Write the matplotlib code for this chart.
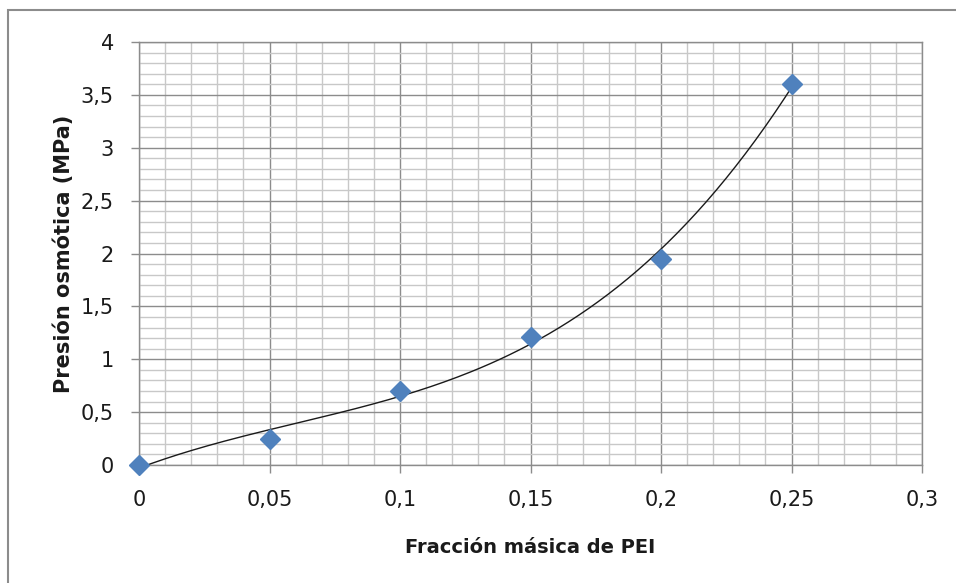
import numpy as np
import matplotlib.pyplot as plt
from matplotlib.patches import Rectangle
from matplotlib.ticker import MultipleLocator, FuncFormatter

fraccion = [0.0, 0.05, 0.10, 0.15, 0.20, 0.25]
presion = [0.0, 0.25, 0.70, 1.21, 1.95, 3.60]

x_ticks = [0, 0.05, 0.1, 0.15, 0.2, 0.25, 0.3]
y_ticks = [0, 0.5, 1, 1.5, 2, 2.5, 3, 3.5, 4]

def coma(v, pos=None):
	s = ('%.2f' % v).rstrip('0').rstrip('.')
	return s.replace('.', ',')

def main():
	fig = plt.figure(figsize=(9.56, 5.83), dpi=100)
	fig.patches.append(Rectangle((8 / 956, -0.05), 1.1, 1 - 10 / 583 + 0.05,
		transform=fig.transFigure, fill=False, edgecolor='#8c8c8c', linewidth=1.5))

	ax = fig.add_axes([139 / 956, 1 - 465 / 583, (922 - 139) / 956, (465 - 42) / 583])
	ax.set_xlim(0, 0.3)
	ax.set_ylim(0, 4)
	ax.set_xticks(x_ticks)
	ax.set_yticks(y_ticks)
	ax.xaxis.set_minor_locator(MultipleLocator(0.01))
	ax.yaxis.set_minor_locator(MultipleLocator(0.1))
	ax.xaxis.set_major_formatter(FuncFormatter(coma))
	ax.yaxis.set_major_formatter(FuncFormatter(coma))

	ax.grid(which='major', color='#8c8c8c', linewidth=1.0)
	ax.grid(which='minor', color='#c8c8c8', linewidth=1.0)
	ax.set_axisbelow(True)

	ax.tick_params(which='major', length=6, width=1, color='#8c8c8c', direction='out',
		labelsize=15, pad=12, labelcolor='#1a1a1a')
	ax.tick_params(which='minor', length=0)
	for s in ax.spines.values():
		s.set_color('#8c8c8c')
		s.set_linewidth(1.0)

	# tendencia polinomica (como en Excel)
	coef = np.polyfit(fraccion, presion, 3)
	xs = np.linspace(min(fraccion), max(fraccion), 200)
	ax.plot(xs, np.polyval(coef, xs), color='#1a1a1a', linewidth=1.0, zorder=3)

	ax.plot(fraccion, presion, linestyle='none', marker='D', markersize=10,
		color='#4f81bd', markeredgecolor='#4f81bd', zorder=4, clip_on=False)

	ax.set_xlabel('Fracción másica de PEI', fontsize=14, fontweight='bold',
		color='#1a1a1a', labelpad=20)
	ax.set_ylabel('Presión osmótica (MPa)', fontsize=15, fontweight='bold',
		color='#1a1a1a', labelpad=5)

	fig.savefig('out.png', dpi=100)

if __name__ == "__main__":
	main()
